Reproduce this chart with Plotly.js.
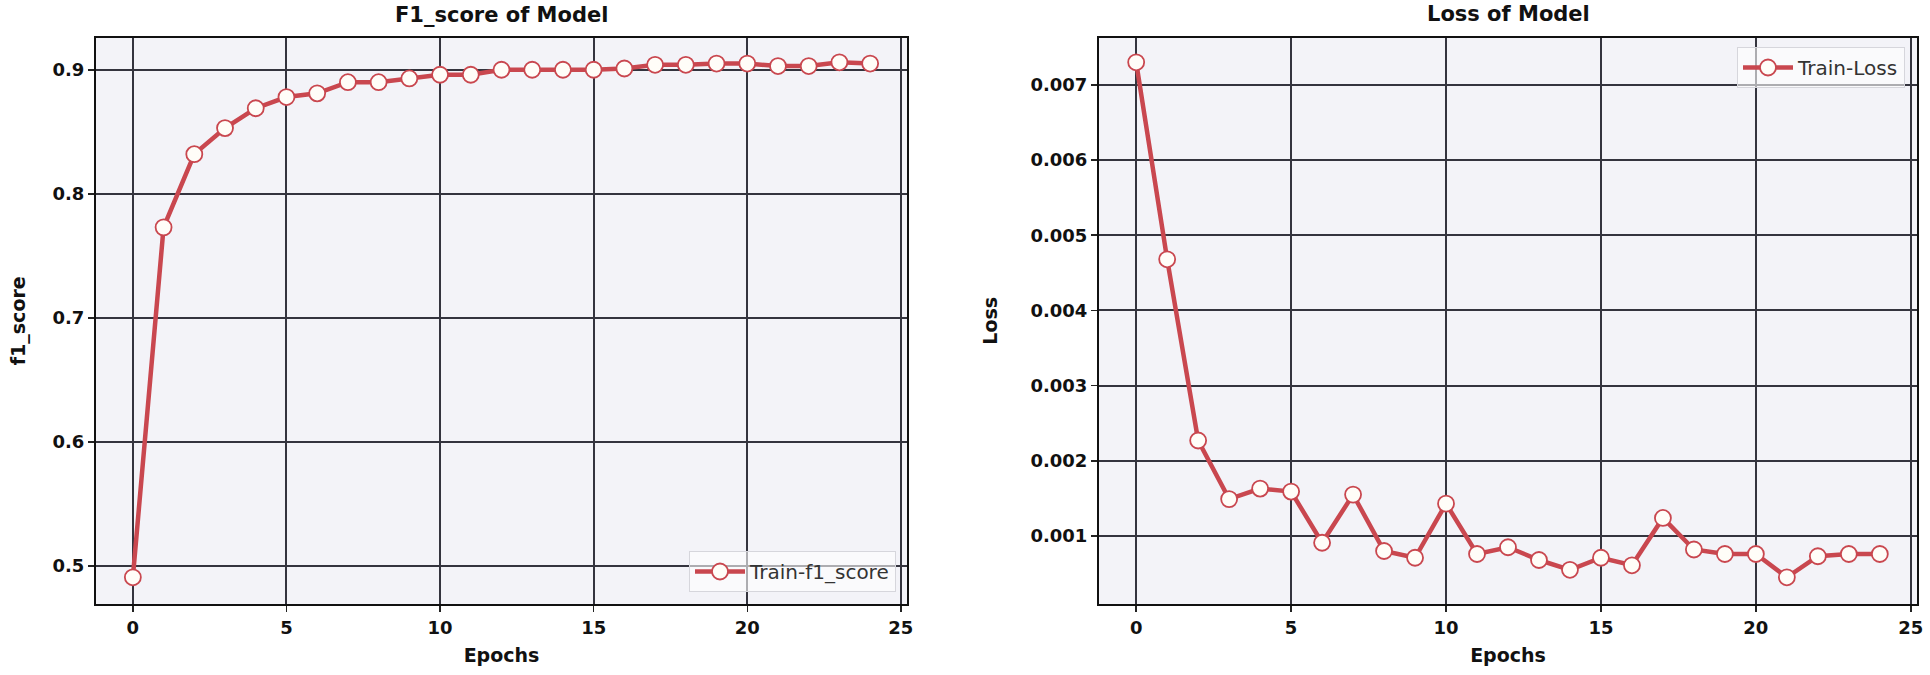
<!DOCTYPE html>
<html>
<head>
<meta charset="utf-8">
<script src="https://cdn.plot.ly/plotly-3.0.1.min.js"></script>
<style>
  html, body { margin: 0; padding: 0; background: #fff; }
  #chart { width: 1930px; height: 675px; }
</style>
</head>
<body>
<div id="chart"></div>
<script>
// Epochs shared by both panels
const epochs = [0, 1, 2, 3, 4, 5, 6, 7, 8, 9, 10, 11, 12, 13, 14, 15, 16, 17, 18, 19, 20, 21, 22, 23, 24];

// Training f1 score per epoch
const trainF1 = [0.491, 0.773, 0.832, 0.853, 0.869, 0.878, 0.881, 0.890, 0.890, 0.893,
  0.896, 0.896, 0.900, 0.900, 0.900, 0.900, 0.901, 0.904, 0.904, 0.905,
  0.905, 0.903, 0.903, 0.906, 0.905];

// Training loss per epoch
const trainLoss = [0.00730, 0.00468, 0.00227, 0.00149, 0.00163, 0.00159, 0.00091, 0.00155, 0.00080, 0.00071,
  0.00143, 0.00076, 0.00085, 0.00068, 0.00055, 0.00071, 0.00061, 0.00124, 0.00082, 0.00076,
  0.00076, 0.00045, 0.00073, 0.00076, 0.00076];

const f1Ticks = [0.5, 0.6, 0.7, 0.8, 0.9];
const lossTicks = [0.001, 0.002, 0.003, 0.004, 0.005, 0.006, 0.007];
const epochTicks = [0, 5, 10, 15, 20, 25];

const W = 1930, H = 675;
const LINE_RED = '#c9474f';
const FONT = 'DejaVu Sans, sans-serif';

// pixel helpers for placing things in paper space
const px = v => v / W;
const py = v => 1 - v / H;

const markerStyle = {
  symbol: 'circle',
  size: 16,
  color: '#fffdf8',
  line: { color: LINE_RED, width: 1.8 }
};

const traces = [
  {
    type: 'scatter',
    mode: 'lines+markers',
    name: 'Train-f1_score',
    x: epochs,
    y: trainF1,
    line: { color: LINE_RED, width: 4.5 },
    marker: markerStyle,
    xaxis: 'x',
    yaxis: 'y',
    legend: 'legend'
  },
  {
    type: 'scatter',
    mode: 'lines+markers',
    name: 'Train-Loss',
    x: epochs,
    y: trainLoss,
    line: { color: LINE_RED, width: 4.5 },
    marker: markerStyle,
    xaxis: 'x2',
    yaxis: 'y2',
    legend: 'legend2'
  }
];

const tickFont = { family: FONT, size: 18, color: '#111', weight: 'bold' };
const axisTitleFont = { family: FONT, size: 19, color: '#111', weight: 'bold' };

function xAxis(domain, anchor) {
  return {
    domain: domain,
    anchor: anchor,
    range: [-1.2, 25.2],
    tickvals: epochTicks,
    ticks: 'outside',
    ticklen: 6,
    tickwidth: 1.5,
    tickcolor: '#222',
    tickfont: tickFont,
    showgrid: true,
    gridcolor: '#34343e',
    gridwidth: 2,
    zeroline: false,
    showline: true,
    linecolor: '#111',
    linewidth: 2,
    mirror: true,
    title: { text: 'Epochs', font: axisTitleFont, standoff: 12 }
  };
}

function yAxis(range, ticks, fmt, title, anchor, standoff) {
  return {
    domain: [py(604), py(37.5)],
    anchor: anchor,
    range: range,
    tickvals: ticks,
    tickformat: fmt,
    ticks: 'outside',
    ticklen: 6,
    tickwidth: 1.5,
    tickcolor: '#222',
    tickfont: tickFont,
    showgrid: true,
    gridcolor: '#34343e',
    gridwidth: 2,
    zeroline: false,
    showline: true,
    linecolor: '#111',
    linewidth: 2,
    mirror: true,
    title: { text: title, font: axisTitleFont, standoff: standoff }
  };
}

const legendCommon = {
  bgcolor: 'rgba(255,255,255,0.6)',
  bordercolor: '#d6d6dc',
  borderwidth: 1,
  font: { family: FONT, size: 20, color: '#333' },
  itemwidth: 50
};

const layout = {
  width: W,
  height: H,
  margin: { l: 0, r: 0, t: 0, b: 0 },
  paper_bgcolor: '#ffffff',
  plot_bgcolor: '#f3f3f8',
  showlegend: true,
  xaxis: xAxis([px(96), px(907)], 'y'),
  yaxis: yAxis([0.4695, 0.926], f1Ticks, '.1f', 'f1_score', 'x', 22),
  xaxis2: xAxis([px(1099), px(1917)], 'y2'),
  yaxis2: yAxis([0.000095, 0.00763], lossTicks, '.3f', 'Loss', 'x2', 28),
  legend: Object.assign({}, legendCommon, {
    x: px(896), xanchor: 'right',
    y: py(592), yanchor: 'bottom'
  }),
  legend2: Object.assign({}, legendCommon, {
    x: px(1905), xanchor: 'right',
    y: py(47), yanchor: 'top'
  }),
  annotations: [
    {
      text: 'F1_score of Model',
      xref: 'paper', yref: 'paper',
      x: px(501), y: py(15),
      xanchor: 'center', yanchor: 'middle',
      showarrow: false,
      font: { family: FONT, size: 21, color: '#111', weight: 'bold' }
    },
    {
      text: 'Loss of Model',
      xref: 'paper', yref: 'paper',
      x: px(1508), y: py(14),
      xanchor: 'center', yanchor: 'middle',
      showarrow: false,
      font: { family: FONT, size: 21, color: '#111', weight: 'bold' }
    }
  ]
};

Plotly.newPlot('chart', traces, layout, { displayModeBar: false, staticPlot: true });
</script>
</body>
</html>
